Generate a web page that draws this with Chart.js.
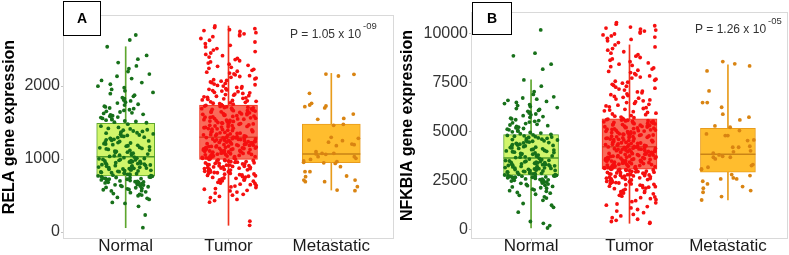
<!DOCTYPE html>
<html><head><meta charset="utf-8">
<script src="https://cdn.jsdelivr.net/npm/chart.js@4.4.0/dist/chart.umd.min.js"></script>
<style>
html,body{margin:0;padding:0;background:#fff;width:789px;height:255px;overflow:hidden}
#a{position:absolute;left:0;top:0}
#b{position:absolute;left:395px;top:0}
</style>
</head><body>
<canvas id="a" width="395" height="255"></canvas>
<canvas id="b" width="394" height="255"></canvas>
<script>
const categories = ['Normal', 'Tumor', 'Metastatic'];
const relaTicks = [0, 1000, 2000];
const nfkbiaTicks = [0, 2500, 5000, 7500, 10000];
const relaRange = [-82, 2959];
const nfkbiaRange = [-444, 11030];

// box statistics: [lower whisker, Q1, median, Q3, upper whisker]
const relaNormalBox = [59, 767, 1032, 1489, 2538];
const relaTumorBox = [92, 996, 1297, 1740, 2822];
const relaMetBox = [575, 950, 1068, 1479, 2173];
const nfkbiaNormalBox = [66, 2755, 3638, 4826, 7617];
const nfkbiaTumorBox = [306, 3061, 4214, 5628, 9403];
const nfkbiaMetBox = [1495, 2908, 3827, 5153, 8383];

const relaNormal = [59,233,352,391,405,446,461,474,497,506,515,527,539,550,563,566,579,584,592,600,606,611,620,624,629,636,644,646,652,658,661,667,672,678,681,686,690,695,700,704,708,713,717,723,725,730,734,739,743,747,751,754,758,761,765,
768,772,779,783,790,793,798,804,807,812,817,822,827,831,837,840,845,851,854,859,863,868,873,876,882,887,890,896,900,905,909,914,918,923,928,931,937,942,946,950,956,959,965,968,974,977,982,988,992,995,1002,1007,1011,1018,1026,
1036,1044,1053,1058,1067,1073,1080,1088,1094,1104,1109,1117,1123,1132,1138,1145,1153,1159,1167,1176,1182,1188,1196,1205,1210,1219,1225,1234,1240,1248,1257,1263,1269,1279,1284,1293,1299,1309,1314,1323,1329,1339,1344,1354,1360,1368,1378,1384,1394,1401,1412,1419,1433,1450,1477,
1497,1504,1514,1521,1532,1539,1549,1556,1567,1574,1586,1593,1604,1612,1624,1632,1644,1653,1666,1675,1689,1699,1713,1724,1739,1750,1766,1778,1795,1808,1826,1840,1859,1875,1895,1912,1934,1953,1977,1998,2024,2047,2076,2102,2134,2164,2198,2237,2275,2321,2367,2419,2538,2630,2699];

const relaTumor = [92,148,409,431,446,470,488,505,516,534,547,563,571,586,595,609,617,629,637,648,655,666,671,681,687,697,701,710,715,724,728,736,740,748,752,760,764,771,775,782,785,792,795,802,805,812,815,822,825,831,834,840,843,849,852,858,860,867,869,875,877,883,885,891,893,899,901,907,909,915,917,923,925,931,933,939,941,947,949,955,957,963,965,971,973,979,981,987,989,994,
998,1003,1006,1009,1014,1016,1022,1024,1029,1032,1034,1040,1042,1046,1049,1053,1057,1059,1063,1066,1070,1072,1077,1080,1083,1086,1090,1093,1096,1099,1104,1106,1110,1113,1117,1119,1124,1127,1129,1134,1137,1139,1144,1147,1150,1153,1157,1160,1163,1167,1170,1172,1177,1179,1184,1186,1190,1193,1197,1199,1203,1207,1209,1213,1216,1220,1222,1227,1230,1232,1237,1240,1243,1246,1250,1253,1256,1259,1263,1266,1269,1273,1276,1279,1282,1286,1289,1291,1294,1296,
1301,1306,1311,1315,1321,1325,1330,1334,1340,1344,1350,1354,1359,1364,1369,1374,1378,1383,1389,1393,1398,1403,1408,1413,1417,1422,1428,1432,1437,1442,1447,1452,1456,1461,1467,1471,1476,1481,1486,1491,1495,1500,1506,1510,1515,1520,1525,1530,1534,1539,1545,1549,1554,1559,1564,1569,1573,1578,1584,1588,1593,1598,1603,1608,1612,1617,1623,1627,1632,1637,1642,1647,1651,1656,1662,1666,1671,1676,1681,1686,1690,1695,1701,1705,1710,1715,1720,1725,1730,1736,
1744,1751,1757,1764,1770,1777,1783,1790,1797,1803,1810,1817,1824,1831,1838,1845,1852,1860,1867,1875,1882,1890,1898,1906,1914,1922,1930,1938,1947,1955,1964,1972,1981,1990,1999,2008,2017,2027,2036,2046,2056,2066,2076,2087,2097,2108,2119,2130,2141,2153,2165,2177,2189,2202,2215,2228,2242,2256,2270,2284,2299,2314,2330,2346,2362,2379,2397,2415,2433,2452,2472,2492,2513,2535,2557,2580,2603,2627,2651,2676,2690,2702,2715,2731,2748,2760,2771,2785,2800,2822];

const relaMet = [2164,2137,2160,1900,1763,1700,1717,1740,1726,1616,1556,1543,1461,1475,1260,1230,1297,1283,1205,1197,1251,1183,1100,1078,1078,1064,1070,1032,1009,995,973,954,1032,963,948,940,895,826,826,767,758,712,689,689,712,621,566,575];

const nfkbiaNormal = [66,188,305,398,872,1118,1226,1315,1476,1592,1655,1734,1786,1843,1877,1934,1968,2013,2046,2093,2118,2163,2187,2224,2246,2284,2307,2343,2358,2394,2407,2443,2458,2484,2497,2523,2536,2562,2571,2594,2602,2623,2629,2648,2653,2670,2675,2691,2696,2710,2713,2728,2731,2745,2752,
2768,2781,2797,2812,2824,2841,2853,2870,2886,2897,2915,2928,2944,2957,2973,2989,3002,3018,3031,3047,3060,3076,3091,3104,3120,3133,3149,3162,3178,3194,3207,3223,3236,3252,3265,3281,3297,3310,3326,3339,3355,3368,3384,3400,3413,3429,3442,3458,3471,3487,3503,3516,3548,3583,3620,
3655,3677,3698,3719,3740,3762,3783,3805,3826,3847,3869,3890,3911,3933,3954,3976,3997,4018,4040,4061,4082,4104,4125,4147,4168,4189,4211,4232,4253,4275,4296,4318,4339,4360,4382,4403,4424,4446,4467,4489,4510,4531,4553,4574,4595,4617,4638,4660,4681,4702,4724,4745,4767,4788,4812,
4841,4873,4905,4938,4970,5004,5037,5071,5105,5140,5175,5210,5246,5282,5318,5355,5392,5430,5468,5507,5546,5586,5626,5667,5708,5750,5793,5836,5880,5925,5970,6016,6063,6110,6158,6207,6257,6308,6360,6413,6467,6522,6578,6636,6695,6755,6880,7020,7300,7617,8163,8418,8845,8980,10169];

const nfkbiaTumor = [306,352,398,455,512,590,680,760,850,930,1010,1090,1160,1230,1290,1350,1410,1460,1510,1560,1610,1650,1690,1730,1770,1810,1845,1880,1915,1950,1980,2010,2040,2070,2100,2125,2150,2175,2200,2225,2250,2272,2294,2316,2338,2360,2380,2400,2420,2440,2460,2480,2500,2518,2536,2554,2572,2590,2607,2624,2641,2658,2675,2691,2707,2723,2739,2755,2770,2785,2800,2815,2830,2845,2859,2873,2887,2901,2915,2929,2943,2957,2971,2985,2998,3011,3024,3036,3048,3059,
3072,3088,3097,3114,3123,3140,3148,3165,3174,3191,3200,3216,3225,3242,3251,3268,3276,3293,3302,3319,3328,3344,3353,3370,3379,3396,3404,3421,3430,3447,3456,3472,3481,3498,3507,3524,3532,3549,3558,3575,3584,3600,3609,3626,3635,3652,3660,3677,3686,3703,3712,3728,3737,3754,3763,3780,3788,3805,3814,3831,3840,3856,3865,3882,3891,3908,3916,3933,3942,3959,3968,3984,3993,4010,4019,4036,4044,4061,4070,4087,4096,4112,4121,4138,4147,4164,4172,4189,4198,4210,
4225,4243,4256,4275,4288,4306,4319,4338,4350,4369,4382,4400,4413,4432,4444,4463,4476,4494,4507,4526,4538,4557,4570,4588,4601,4620,4632,4651,4664,4682,4695,4714,4726,4745,4758,4776,4789,4808,4820,4839,4852,4870,4883,4902,4914,4933,4946,4964,4977,4996,5008,5027,5040,5058,5071,5090,5102,5121,5134,5152,5165,5184,5196,5215,5228,5246,5259,5278,5290,5309,5322,5340,5353,5372,5384,5403,5416,5434,5447,5466,5478,5497,5510,5528,5541,5560,5572,5591,5604,5620,
5650,5690,5725,5770,5800,5845,5880,5920,5960,6000,6040,6080,6120,6160,6200,6245,6290,6330,6375,6420,6460,6505,6550,6595,6640,6685,6730,6775,6820,6865,6910,6960,7005,7050,7100,7150,7195,7245,7295,7345,7395,7450,7500,7550,7600,7655,7710,7765,7820,7875,7935,7990,8050,8110,8170,8230,8295,8355,8420,8485,8550,8620,8690,8760,8830,8905,8980,9055,9135,9215,9300,9403,9520,9610,9680,9740,9800,9860,9910,9960,10010,10060,10110,10160,10210,10260,10310,10380,10460,10541];

const nfkbiaMet = [8551,8440,8331,8076,7055,6224,6462,6462,5868,5715,5579,5273,5205,5035,4865,4780,4780,4558,4524,4235,4184,4184,3878,3793,3674,3725,3674,3589,3249,3164,3079,3045,2739,2620,2569,2790,2569,2450,2314,2178,2093,1974,1889,1668,1495,3300,4000,3950];

const FONT = "'Liberation Sans', Arial, Helvetica, sans-serif";
const boxFills = ['#d1f56b', '#f96b5a', '#ffbd2e'];
const boxBorders = ['#5ea62e', '#f0321e', '#e89c1c'];
const medianColors = ['#4e9a28', '#e33a26', '#c98316'];
const pointColors = ['#17701a', '#f50f0f', '#d98412'];

function jitter(i, g) {
  const s = Math.sin(i * 78.233 + g * 12.9898 + 1.7) * 43758.5453;
  return (s - Math.floor(s) - 0.5) * 0.54;
}

const panelDecor = {
  id: 'panelDecor',
  beforeDatasetsDraw(chart) {
    const {ctx, chartArea: a} = chart;
    ctx.save();
    ctx.strokeStyle = '#d9d9d9';
    ctx.lineWidth = 1;
    ctx.strokeRect(a.left - 0.5, a.top - 0.5, a.right - a.left + 1, a.bottom - a.top + 1);
    ctx.restore();
  },
  afterDraw(chart, args, o) {
    const ctx = chart.ctx;
    ctx.save();
    ctx.fillStyle = '#fff';
    ctx.fillRect(o.box[0], o.box[1], o.box[2], o.box[3]);
    ctx.strokeStyle = '#000';
    ctx.lineWidth = 1;
    ctx.strokeRect(o.box[0], o.box[1], o.box[2], o.box[3]);
    ctx.fillStyle = '#000';
    ctx.font = 'bold 14px ' + FONT;
    ctx.textAlign = 'center';
    ctx.textBaseline = 'middle';
    ctx.fillText(o.letter, o.box[0] + o.box[2] / 2, o.box[1] + o.box[3] / 2 + 1);
    ctx.fillStyle = '#333';
    ctx.textAlign = 'left';
    ctx.textBaseline = 'alphabetic';
    ctx.font = '12px ' + FONT;
    ctx.fillText(o.pMain, o.px, o.py);
    const w = ctx.measureText(o.pMain).width;
    ctx.font = '9.5px ' + FONT;
    ctx.fillText(o.pExp, o.px + w + 2, o.py - 9);
    ctx.restore();
  }
};

function makeChart(id, cfg) {
  const datasets = [];
  cfg.points.forEach((vals, g) => {
    datasets.push({
      type: 'scatter', order: 0,
      data: vals.map((v, i) => ({x: g + 1 + jitter(i, g), y: v})),
      pointRadius: 1.9, pointHoverRadius: 1.9,
      pointBackgroundColor: pointColors[g], pointBorderWidth: 0
    });
  });
  datasets.push({
    type: 'scatter', order: 1,
    data: cfg.boxes.map((b, g) => ({x: g + 1, y: b[2]})),
    pointStyle: 'line', pointRadius: cfg.boxPx / 2, pointHoverRadius: cfg.boxPx / 2,
    pointBorderColor: medianColors, pointBorderWidth: 1.5
  });
  datasets.push({
    type: 'bar', order: 2, grouped: false,
    data: cfg.boxes.map((b, g) => ({x: g + 1, y: [b[1], b[3]]})),
    backgroundColor: boxFills, borderColor: boxBorders, borderWidth: 1,
    borderSkipped: false, barThickness: cfg.boxPx
  });
  datasets.push({
    type: 'bar', order: 3, grouped: false,
    data: cfg.boxes.map((b, g) => ({x: g + 1, y: [b[0], b[4]]})),
    backgroundColor: boxBorders, borderWidth: 0, barThickness: 1
  });

  return new Chart(document.getElementById(id), {
    type: 'bar',
    data: {datasets},
    options: {
      responsive: false, animation: false, devicePixelRatio: 1, events: [],
      layout: {autoPadding: false, padding: {top: cfg.padTop, right: cfg.padRight, left: 0, bottom: 0}},
      plugins: {
        legend: {display: false}, tooltip: {enabled: false},
        panelDecor: cfg.decor
      },
      scales: {
        x: {
          type: 'linear', min: 0.4, max: 3.6, offset: false,
          afterBuildTicks: s => { s.ticks = categories.map((c, i) => ({value: i + 1})); },
          ticks: {
            callback: (v, i) => categories[i], autoSkip: false, maxRotation: 0,
            font: {family: FONT, size: 17}, color: '#1a1a1a', padding: -5
          },
          grid: {offset: false, drawOnChartArea: false, drawTicks: true, tickLength: 3, color: '#c4c4c4'},
          border: {display: false},
          afterFit: s => { s.height = 17; }
        },
        y: {
          type: 'linear', min: cfg.range[0], max: cfg.range[1], beginAtZero: false,
          afterBuildTicks: s => { s.ticks = cfg.ticks.map(v => ({value: v})); },
          ticks: {font: {family: FONT, size: 16}, color: '#333', padding: 1, callback: v => String(v)},
          grid: {drawOnChartArea: false, drawTicks: true, tickLength: 3, color: '#c4c4c4'},
          border: {display: false},
          title: {
            display: true, text: cfg.title, color: '#000',
            font: {family: FONT, size: 16, weight: 'bold'},
            padding: {top: cfg.titlePad, bottom: 0}
          },
          afterFit: s => { s.width = cfg.yWidth; }
        }
      }
    },
    plugins: [panelDecor]
  });
}

makeChart('a', {
  boxes: [relaNormalBox, relaTumorBox, relaMetBox],
  points: [relaNormal, relaTumor, relaMet],
  range: relaRange, ticks: relaTicks, title: 'RELA gene expression',
  boxPx: 58, padTop: 16, padRight: 2, yWidth: 64, titlePad: 0,
  decor: {box: [63.5, 1.5, 37, 34], letter: 'A', pMain: 'P = 1.05 x 10', pExp: '-09', px: 290, py: 37.5}
});
makeChart('b', {
  boxes: [nfkbiaNormalBox, nfkbiaTumorBox, nfkbiaMetBox],
  points: [nfkbiaNormal, nfkbiaTumor, nfkbiaMet],
  range: nfkbiaRange, ticks: nfkbiaTicks, title: 'NFKBIA gene expression',
  boxPx: 55, padTop: 13, padRight: 2, yWidth: 77, titlePad: 3,
  decor: {box: [77.5, 2.5, 39, 32], letter: 'B', pMain: 'P = 1.26 x 10', pExp: '-05', px: 300, py: 33}
});
</script>
</body></html>
